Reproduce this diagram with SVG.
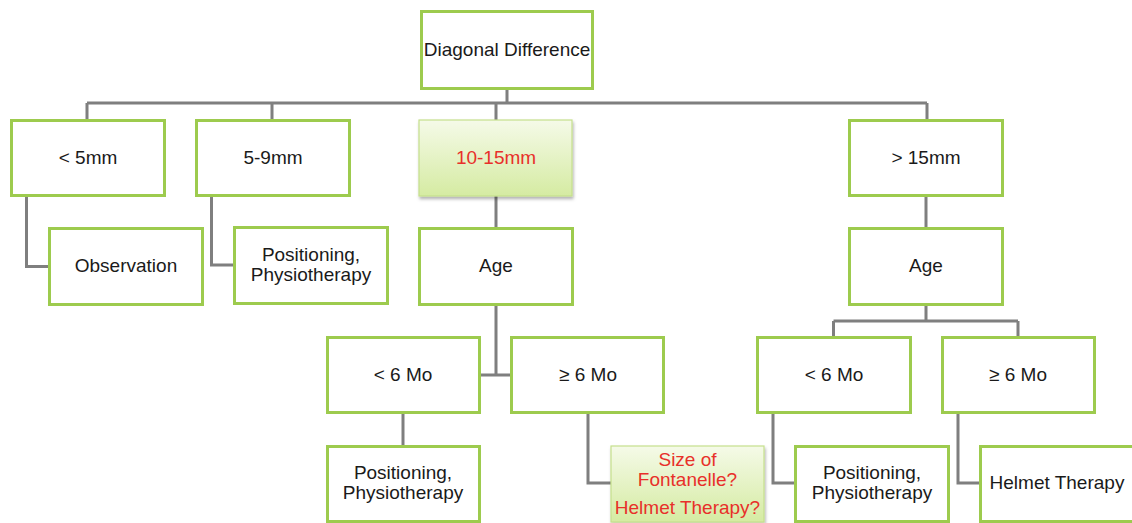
<svg xmlns="http://www.w3.org/2000/svg" width="1132" height="523" viewBox="0 0 1132 523">
<style>
.box{fill:#ffffff;stroke:#9dcb4e;stroke-width:3}
.hl{fill:url(#gr);stroke:#c5df8c;stroke-width:1.2}
.t{font-family:"Liberation Sans",Arial,sans-serif;font-size:19px;fill:#1a1a1a;text-anchor:middle}
.r{fill:#e8302a}
.c{fill:none;stroke:#7f7f7f;stroke-width:3}
</style>
<defs>
<linearGradient id="gr" x1="0" y1="0" x2="0" y2="1">
<stop offset="0" stop-color="#f5fae8"/>
<stop offset="1" stop-color="#d5eba2"/>
</linearGradient>
<filter id="sh" x="-10%" y="-10%" width="120%" height="130%">
<feDropShadow dx="1" dy="2.5" stdDeviation="1.5" flood-color="#000" flood-opacity="0.3"/>
</filter>
</defs>
<g id="connectors">
<path class="c" d="M507 89V103M87 103H927M87 103V120M272 103V120M496 103V120M927 103V120"/>
<path class="c" d="M26.5 196V266.5H49"/>
<path class="c" d="M211.5 196V265H234"/>
<path class="c" d="M496 196V228"/>
<path class="c" d="M496 305V375M480 375H511"/>
<path class="c" d="M403 413V446"/>
<path class="c" d="M588 413V483H611"/>
<path class="c" d="M926 196V228"/>
<path class="c" d="M926 305V321M833.5 321H1018M833.5 321V337M1018 321V337"/>
<path class="c" d="M773 413V483H795"/>
<path class="c" d="M958 413V483H980"/>
</g>
<g id="n-diag"><rect class="box" x="421.5" y="11.5" width="171" height="77"/><text class="t" x="507" y="56">Diagonal Difference</text></g>
<g id="n-lt5"><rect class="box" x="11.5" y="120.5" width="153" height="75"/><text class="t" x="88" y="164">&lt; 5mm</text></g>
<g id="n-5to9"><rect class="box" x="196.5" y="120.5" width="153" height="75"/><text class="t" x="273" y="164">5-9mm</text></g>
<g id="n-10to15"><rect class="hl" x="419" y="120" width="153" height="76" filter="url(#sh)"/><text class="t r" x="496" y="164">10-15mm</text></g>
<g id="n-gt15"><rect class="box" x="849.5" y="120.5" width="153" height="75"/><text class="t" x="926" y="164">&gt; 15mm</text></g>
<g id="n-obs"><rect class="box" x="49.5" y="228.5" width="153" height="76"/><text class="t" x="126" y="272">Observation</text></g>
<g id="n-pos1"><rect class="box" x="234.5" y="227.5" width="153" height="76"/><text class="t" x="311" y="261">Positioning,</text><text class="t" x="311" y="281">Physiotherapy</text></g>
<g id="n-age1"><rect class="box" x="419.5" y="228.5" width="153" height="76"/><text class="t" x="496" y="272">Age</text></g>
<g id="n-age2"><rect class="box" x="849.5" y="228.5" width="153" height="76"/><text class="t" x="926" y="272">Age</text></g>
<g id="n-lt6a"><rect class="box" x="327.5" y="337.5" width="152" height="75"/><text class="t" x="403" y="381">&lt; 6 Mo</text></g>
<g id="n-ge6a"><rect class="box" x="511.5" y="337.5" width="152" height="75"/><text class="t" x="588" y="381">≥ 6 Mo</text></g>
<g id="n-lt6b"><rect class="box" x="757.5" y="337.5" width="153" height="75"/><text class="t" x="834" y="381">&lt; 6 Mo</text></g>
<g id="n-ge6b"><rect class="box" x="942.5" y="337.5" width="152" height="75"/><text class="t" x="1018" y="381">≥ 6 Mo</text></g>
<g id="n-pos2"><rect class="box" x="327.5" y="446.5" width="152" height="75"/><text class="t" x="403" y="479">Positioning,</text><text class="t" x="403" y="499">Physiotherapy</text></g>
<g id="n-font"><rect class="hl" x="611" y="446" width="153" height="76" filter="url(#sh)"/><text class="t r" x="687.5" y="466">Size of</text><text class="t r" x="687.5" y="486">Fontanelle?</text><text class="t r" x="687.5" y="514">Helmet Therapy?</text></g>
<g id="n-pos3"><rect class="box" x="795.5" y="446.5" width="153" height="75"/><text class="t" x="872" y="479">Positioning,</text><text class="t" x="872" y="499">Physiotherapy</text></g>
<g id="n-helm"><rect class="box" x="980.5" y="446.5" width="153" height="75"/><text class="t" x="1057" y="489">Helmet Therapy</text></g>
</svg>
